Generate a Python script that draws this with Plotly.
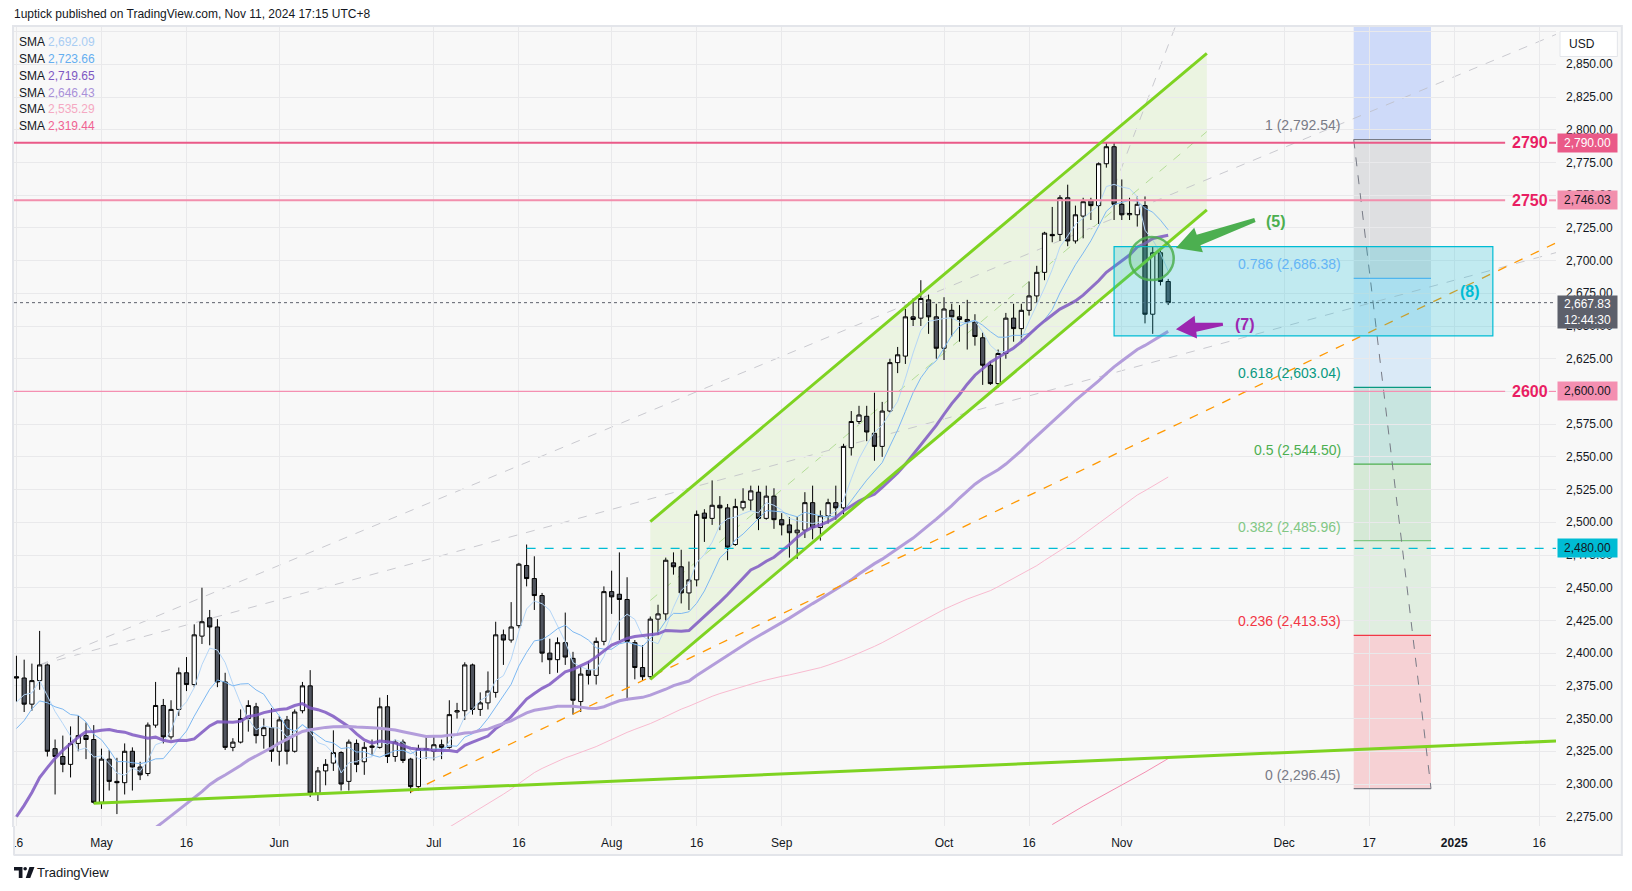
import numpy as np
import pandas as pd
import plotly.graph_objects as go

# ---------------- data ----------------
first_day, last_day = "2024-04-16", "2024-11-11"

opens = [2382, 2381, 2361, 2379, 2391, 2327, 2321, 2315, 2331, 2337, 2334,
         2286, 2319, 2302, 2301, 2325, 2313, 2308, 2345, 2360, 2336, 2357, 2385, 2376, 2413, 2427, 2420, 2378, 2328, 2332, 2350, 2359, 2337, 2343,
         2325, 2349, 2325, 2356, 2375, 2293, 2310, 2316, 2324, 2302, 2331, 2317, 2328, 2328, 2359, 2321, 2332, 2319, 2298, 2327,
         2325, 2330, 2328, 2355, 2356, 2391, 2357, 2362, 2370, 2414, 2410, 2421, 2467, 2457, 2444, 2400, 2395, 2408, 2396, 2363, 2387, 2383, 2409,
         2447, 2445, 2441, 2408, 2389, 2382, 2426, 2430, 2469, 2466, 2446, 2456, 2507, 2503, 2513, 2511, 2483, 2511, 2517, 2523, 2503, 2520,
         2502, 2498, 2492, 2494, 2515, 2496, 2505, 2515, 2511, 2557, 2577, 2581, 2568, 2558, 2585, 2622, 2627, 2657, 2656, 2670, 2657,
         2633, 2662, 2657, 2655, 2653, 2641, 2620, 2606, 2629, 2656, 2648, 2662, 2673, 2691, 2720, 2720, 2748, 2715, 2734, 2746, 2742, 2774, 2787,
         2743, 2735, 2735, 2742, 2659, 2706, 2684]
highs = [2398, 2395, 2392, 2417, 2392, 2334, 2337, 2344, 2352, 2347, 2345,
         2327, 2326, 2320, 2331, 2328, 2317, 2347, 2378, 2365, 2364, 2389, 2397, 2422, 2450, 2433, 2426, 2385, 2335, 2357, 2364, 2362, 2350, 2358,
         2352, 2352, 2357, 2378, 2387, 2313, 2319, 2341, 2325, 2334, 2334, 2332, 2334, 2366, 2368, 2334, 2334, 2320, 2330, 2337,
         2337, 2334, 2364, 2362, 2393, 2392, 2370, 2386, 2424, 2418, 2439, 2469, 2483, 2474, 2446, 2411, 2412, 2431, 2401, 2390, 2394, 2412, 2451,
         2463, 2477, 2458, 2410, 2406, 2428, 2437, 2473, 2477, 2479, 2470, 2509, 2510, 2532, 2520, 2514, 2518, 2526, 2528, 2528, 2528, 2526,
         2507, 2504, 2504, 2523, 2528, 2509, 2518, 2528, 2560, 2585, 2589, 2589, 2599, 2592, 2625, 2634, 2663, 2671, 2685, 2674, 2667,
         2672, 2667, 2666, 2670, 2659, 2645, 2623, 2632, 2660, 2667, 2667, 2684, 2696, 2722, 2741, 2750, 2758, 2742, 2748, 2748, 2775, 2790, 2790,
         2762, 2748, 2749, 2749, 2711, 2709, 2686]
lows = [2363, 2355, 2356, 2372, 2321, 2292, 2309, 2305, 2325, 2319, 2285,
        2281, 2295, 2277, 2292, 2295, 2303, 2306, 2343, 2331, 2334, 2352, 2371, 2374, 2407, 2406, 2374, 2326, 2325, 2331, 2340, 2331, 2327, 2317,
        2314, 2315, 2324, 2354, 2290, 2287, 2299, 2310, 2295, 2295, 2309, 2307, 2322, 2327, 2316, 2317, 2316, 2293, 2295, 2319,
        2318, 2319, 2327, 2350, 2349, 2353, 2352, 2357, 2366, 2391, 2408, 2419, 2451, 2433, 2393, 2384, 2385, 2391, 2353, 2355, 2376, 2376, 2406,
        2430, 2410, 2364, 2380, 2379, 2380, 2414, 2425, 2460, 2438, 2433, 2451, 2485, 2498, 2494, 2471, 2482, 2509, 2509, 2494, 2502, 2495,
        2490, 2473, 2472, 2488, 2487, 2486, 2499, 2502, 2506, 2551, 2575, 2562, 2547, 2550, 2584, 2614, 2621, 2650, 2650, 2644, 2625,
        2624, 2642, 2638, 2632, 2635, 2605, 2605, 2603, 2625, 2638, 2638, 2658, 2668, 2685, 2714, 2715, 2711, 2713, 2717, 2731, 2728, 2771, 2731,
        2731, 2731, 2726, 2652, 2644, 2681, 2666]
closes = [2381, 2361, 2379, 2391, 2325, 2321, 2315, 2331, 2337, 2334, 2286,
          2319, 2302, 2301, 2325, 2313, 2307, 2345, 2360, 2336, 2357, 2385, 2376, 2414, 2424, 2420, 2378, 2328, 2332, 2350, 2360, 2337, 2343, 2325,
          2349, 2325, 2355, 2375, 2293, 2310, 2315, 2324, 2300, 2332, 2315, 2328, 2329, 2359, 2321, 2332, 2318, 2298, 2327, 2326,
          2330, 2328, 2353, 2356, 2391, 2357, 2362, 2371, 2414, 2410, 2420, 2468, 2457, 2444, 2400, 2395, 2408, 2397, 2364, 2384, 2383, 2409, 2447,
          2443, 2441, 2409, 2389, 2382, 2426, 2430, 2471, 2466, 2446, 2456, 2506, 2503, 2513, 2511, 2481, 2512, 2516, 2524, 2503, 2520, 2502,
          2498, 2492, 2494, 2515, 2496, 2505, 2515, 2511, 2558, 2577, 2582, 2569, 2558, 2585, 2622, 2628, 2657, 2655, 2671, 2657, 2633,
          2663, 2657, 2655, 2653, 2642, 2620, 2606, 2629, 2656, 2648, 2662, 2673, 2691, 2721, 2719, 2748, 2715, 2735, 2745, 2742, 2774, 2787, 2743,
          2735, 2736, 2743, 2659, 2706, 2684, 2667.83]
# closes before the first visible bar (Feb 5 - Apr 15), feeding the moving averages
prior_closes = [2025, 2035, 2035, 2034, 2024, 2020, 1992, 1992, 2004, 2013, 2018, 2024, 2025, 2024, 2035, 2031, 2030, 2034, 2044,
                2083, 2115, 2128, 2148, 2160, 2179, 2182, 2158, 2175, 2162, 2156, 2160, 2157, 2187, 2181, 2165, 2172, 2179, 2194, 2233, 2233,
                2251, 2280, 2300, 2291, 2329, 2339, 2352, 2333, 2372, 2344, 2383]

sma_periods = [5, 10, 20, 50, 100]
sma_colors = ['#b5d6f7', '#7db8f2', 'rgba(126,87,194,0.85)', '#b39ddb', '#f8bbd0']
sma_widths = [1, 1, 3, 3, 1]
sma200_days = ["2024-10-21", "2024-10-25", "2024-10-31", "2024-11-06", "2024-11-11"]
sma200_vals = [2269, 2283, 2296, 2309, 2319.44]
legend_values = ["2,692.09", "2,723.66", "2,719.65", "2,646.43", "2,535.29", "2,319.44"]
legend_colors = ['#a9cdf3', '#64aef0', '#7e57c2', '#a991d8', '#f5a9c2', '#f06292']

xtick_days = ["2024-04-16", "2024-05-01", "2024-05-16", "2024-06-03", "2024-07-01", "2024-07-16", "2024-08-01",
              "2024-08-16", "2024-09-02", "2024-10-01", "2024-10-16", "2024-11-01", "2024-12-02", "2024-12-17",
              "2025-01-01", "2025-01-16"]
xtick_text = ["16", "May", "16", "Jun", "Jul", "16", "Aug", "16", "Sep", "Oct", "16", "Nov", "Dec", "17", "<b>2025</b>", "16"]
ytick_vals = list(range(2275, 2876, 25))
ytick_hidden = [2600, 2875]   # fully covered by the price boxes / USD box

# horizontal levels
levels = [2790.00, 2746.03, 2600.00]
level_tags = ["2790", "2750", "2600"]
level_colors = ['#ea5a88', '#f28fad', '#f48fb1']
level_widths = [2, 2, 1.2]
level_box_fg = ['#ffffff', '#131722', '#131722']
support_day, support_price = "2024-07-17", 2480.00
last_price = 2667.83
countdown = "12:44:30"

# drawings (anchor date, price)
channel_days = ["2024-08-08", "2024-11-18"]
channel_upper = [2500.5, 2858.4]
channel_lower = [2380.0, 2738.7]
trend_days = ["2024-04-30", "2025-01-16"]
trend_prices = [2285.2, 2332.3]
fan_start = ("2024-04-19", 2391.0)
fan_ends = [("2025-01-16", 2867.5), ("2025-01-16", 2702.6)]
steep_days = ["2024-10-31", "2024-11-12"]
steep_prices = [2756.0, 2880.0]
orange_days = ["2024-06-26", "2025-01-16"]
orange_prices = [2294.0, 2707.4]
box_days = ["2024-10-31", "2025-01-08"]
box_prices = [2642.4, 2710.6]
circle_day, circle_price = "2024-11-07", 2701.5
fib_days = ["2024-12-13", "2024-12-27"]
fib_ratios = [1, 0.786, 0.618, 0.5, 0.382, 0.236, 0]
fib_prices = [2792.54, 2686.38, 2603.04, 2544.50, 2485.96, 2413.53, 2296.45]
fib_colors = ['#787b86', '#64b5f6', '#089981', '#4caf50', '#81c784', '#f23645', '#787b86']
fib_fills = ['rgba(120,123,134,0.2)', 'rgba(100,181,246,0.2)', 'rgba(8,153,129,0.2)',
             'rgba(76,175,80,0.2)', 'rgba(129,199,132,0.2)', 'rgba(242,54,69,0.2)']
marks = [("(5)", "2024-11-29", 2729.7, '#4caf50'), ("(7)", "2024-11-25", 2650.8, '#9c27b0'),
         ("(8)", "2025-01-03", 2676.2, '#00bcd4')]
arrows = [("2024-11-12", 2709.6, 79, 28, '#4caf50'), ("2024-11-12", 2647.5, 47, 5, '#9c27b0')]

# ---------------- geometry ----------------
W, H = 1632, 891
PL, PR, PT, PB = 10, 1556, 27, 826
X_RANGE = [-0.316, 199.17]
Y_RANGE = [2267.9, 2878.5]

all_days = pd.bdate_range(first_day, "2025-01-31")
def ix(d):
    return int(all_days.get_loc(pd.Timestamp(d)))

def PX(px):
    return (px - PL) / (PR - PL)

def PY(py):
    return (PB - py) / (PB - PT)

n = len(closes)
xi = np.arange(n)

fig = go.Figure()

# moving averages
allc = pd.Series(prior_closes + closes, dtype=float)
for p, c, w in zip(sma_periods, sma_colors, sma_widths):
    s = allc.rolling(p).mean().to_numpy()[len(prior_closes):]
    fig.add_trace(go.Scatter(x=xi, y=s, mode='lines', line=dict(color=c, width=w), hoverinfo='skip'))
fig.add_trace(go.Scatter(x=[ix(d) for d in sma200_days], y=sma200_vals, mode='lines',
                         line=dict(color='#f48fb1', width=1), hoverinfo='skip'))

fig.add_trace(go.Candlestick(
    x=xi, open=opens, high=highs, low=lows, close=closes,
    increasing=dict(fillcolor='#ffffff', line=dict(color='#000000', width=1)),
    decreasing=dict(fillcolor='#50545e', line=dict(color='#000000', width=1)),
    whiskerwidth=0, hoverinfo='skip'))

shapes = []
annotations = []

def ann(text, x, y, xref='paper', yref='paper', **kw):
    d = dict(text=text, x=x, y=y, xref=xref, yref=yref, showarrow=False)
    d.update(kw)
    annotations.append(d)

def seg(x0, y0, x1, y1, color, width=1, dash='solid', xref='x', yref='y', layer='above'):
    shapes.append(dict(type='line', x0=x0, y0=y0, x1=x1, y1=y1, xref=xref, yref=yref,
                       line=dict(color=color, width=width, dash=dash), layer=layer))

def extend(d0, p0, d1, p1):
    i0, i1 = ix(d0), ix(d1)
    slope = (p1 - p0) / (i1 - i0)
    return i0, p0, X_RANGE[1], p0 + slope * (X_RANGE[1] - i0)

# chart frame
shapes.append(dict(type='rect', xref='paper', yref='paper', x0=PX(9), x1=PX(1622), y0=PY(855), y1=PY(26),
                   fillcolor='#f8f8f8', line=dict(color='#e3e5ea', width=2), layer='below'))

# fibonacci retracement
f0, f1 = ix(fib_days[0]), ix(fib_days[1])
shapes.append(dict(type='rect', xref='x', yref='y', x0=f0, x1=f1, y0=fib_prices[0], y1=Y_RANGE[1] + 50,
                   fillcolor='rgba(41,98,255,0.2)', line=dict(width=0), layer='below'))
for k in range(len(fib_fills)):
    shapes.append(dict(type='rect', xref='x', yref='y', x0=f0, x1=f1, y0=fib_prices[k + 1], y1=fib_prices[k],
                       fillcolor=fib_fills[k], line=dict(width=0), layer='below'))
for r, p, c in zip(fib_ratios, fib_prices, fib_colors):
    seg(f0, p, f1, p, c, 1.2)
    ann(f"{r:g} ({p:,.2f})", f0, p, xref='x', yref='y', xanchor='right', yanchor='middle',
        xshift=-11, yshift=14, font=dict(color=c, size=14))
seg(f0, fib_prices[0], f1, fib_prices[-1], '#787b86', 1, 'dash')

# channel
c0, c1 = ix(channel_days[0]), ix(channel_days[1])
shapes.append(dict(type='path', xref='x', yref='y',
                   path=f"M {c0},{channel_upper[0]} L {c1},{channel_upper[1]} L {c1},{channel_lower[1]} L {c0},{channel_lower[0]} Z",
                   fillcolor='rgba(126,211,33,0.1)', line=dict(width=0), layer='below'))
seg(c0, (channel_upper[0] + channel_lower[0]) / 2, c1, (channel_upper[1] + channel_lower[1]) / 2,
    'rgba(110,190,60,0.45)', 1, 'dash', layer='below')

# fan lines from the April top
for d1, p1 in fan_ends:
    a, b, c, d = extend(fan_start[0], fan_start[1], d1, p1)
    seg(a, b, c, d, 'rgba(190,190,198,0.8)', 1, 'dash', layer='below')
seg(ix(steep_days[0]), steep_prices[0], ix(steep_days[1]), steep_prices[1], 'rgba(190,190,198,0.8)', 1, 'dash', layer='below')

# orange dashed trend
a, b, c, d = extend(orange_days[0], orange_prices[0], orange_days[1], orange_prices[1])
seg(a, b, c, d, '#ff9800', 1.3, 'dash')

# horizontal levels
for lv, tag, col, lw in zip(levels, level_tags, level_colors, level_widths):
    seg(0, lv, PX(1505), lv, col, lw, xref='paper')
    seg(PX(1549), lv, 1, lv, col, lw, xref='paper')
    ann(f"<b>{tag}</b>", PX(1529.5), lv, yref='y', xanchor='center', yanchor='middle',
        font=dict(color='#e91e63', size=16))
seg(ix(support_day), support_price, X_RANGE[1], support_price, '#00bcd4', 1.3, 'dash')
seg(0, last_price, 1, last_price, '#5d606b', 1, 'dot', xref='paper')

# support trend line (bottom) and channel borders
a, b, c, d = extend(trend_days[0], trend_prices[0], trend_days[1], trend_prices[1])
seg(a, b, c, d, '#7ed321', 3)
seg(c0, channel_upper[0], c1, channel_upper[1], '#7ed321', 3)
seg(c0, channel_lower[0], c1, channel_lower[1], '#7ed321', 3)

# zone box
shapes.append(dict(type='rect', xref='x', yref='y', x0=ix(box_days[0]), x1=ix(box_days[1]),
                   y0=box_prices[0], y1=box_prices[1], fillcolor='rgba(0,188,212,0.22)',
                   line=dict(color='#00bcd4', width=1.2), layer='above'))
# circle
shapes.append(dict(type='circle', xref='x', yref='y', xsizemode='pixel', ysizemode='pixel',
                   xanchor=ix(circle_day), yanchor=circle_price, x0=-23, x1=21, y0=-21.5, y1=21.5,
                   fillcolor='rgba(76,175,80,0.15)', line=dict(color='rgba(76,175,80,0.85)', width=2.5), layer='above'))

# arrows
def arrow_path(dx, dy, head_len, head_half, shaft_half, tail_half):
    L = np.hypot(dx, dy)
    ux, uy = dx / L, dy / L
    nx, ny = -uy, ux
    bx, by = ux * head_len, uy * head_len
    pts = [(0, 0), (bx + nx * head_half, by + ny * head_half), (bx + nx * shaft_half, by + ny * shaft_half),
           (dx + nx * tail_half, dy + ny * tail_half), (dx - nx * tail_half, dy - ny * tail_half),
           (bx - nx * shaft_half, by - ny * shaft_half), (bx - nx * head_half, by - ny * head_half)]
    return "M " + " L ".join(f"{p:.1f},{q:.1f}" for p, q in pts) + " Z"

for d, p, dx, dy, col in arrows:
    big = dx > 60
    path = arrow_path(dx, dy, 24 if big else 20, 13 if big else 11.5, 5.5 if big else 4.5, 2 if big else 1.5)
    shapes.append(dict(type='path', xref='x', yref='y', xsizemode='pixel', ysizemode='pixel',
                       xanchor=ix(d), yanchor=p, path=path,
                       fillcolor=col, line=dict(width=0), layer='above'))

for txt, d, p, col in marks:
    ann(f"<b>{txt}</b>", ix(d), p, xref='x', yref='y', font=dict(color=col, size=16))

# price-axis labels
def price_box(price, text, bg, fg, nlines=1, yshift=0, yanchor='middle'):
    ann(text, PX(1557), price, yref='y', xanchor='left', yanchor=yanchor, yshift=yshift,
        bgcolor=bg, font=dict(color=fg, size=12), width=56, height=14 * nlines + 1, borderpad=1.5, align='center')

for lv, col, fg in zip(levels, level_colors, level_box_fg):
    price_box(lv, f"{lv:,.2f}", col, fg)
price_box(support_price, f"{support_price:,.2f}", '#00bcd4', '#131722')
price_box(last_price, f"{last_price:,.2f}<br>{countdown}", '#5d606b', '#ffffff', nlines=2, yshift=8, yanchor='top')

# USD box
shapes.append(dict(type='rect', xref='paper', yref='paper', x0=PX(1560), x1=PX(1617.5), y0=PY(56.5), y1=PY(31.5),
                   fillcolor='#ffffff', line=dict(color='#e3e5ea', width=1), layer='above'))
ann("USD", PX(1567), PY(44), xanchor='left', yanchor='middle', font=dict(size=12, color='#131722'))

# cover for clipped first time label
shapes.append(dict(type='rect', xref='paper', yref='paper', x0=PX(0), x1=PX(9.5), y0=PY(858), y1=PY(827),
                   fillcolor='#ffffff', line=dict(width=0), layer='above'))
shapes.append(dict(type='line', xref='paper', yref='paper', x0=PX(10), x1=PX(10), y0=PY(855), y1=PY(826),
                   line=dict(color='#e3e5ea', width=2), layer='above'))

# legend of moving averages
rows_y = [41.7, 59, 76, 92.7, 109.3, 126.5]
for val, col, ry in zip(legend_values, legend_colors, rows_y):
    ann("SMA", PX(13.5), PY(ry), xanchor='left', yanchor='middle', font=dict(size=12, color='#131722'))
    ann(val, PX(42.5), PY(ry), xanchor='left', yanchor='middle', font=dict(size=12, color=col))

# header and footer
ann("1uptick published on TradingView.com, Nov 11, 2024 17:15 UTC+8", PX(8), PY(14.5),
    xanchor='left', yanchor='middle', font=dict(size=12, color='#131722'))
shapes.append(dict(type='path', xref='paper', yref='paper',
                   path=f"M {PX(10)},{PY(867)} L {PX(18.5)},{PY(867)} L {PX(18.5)},{PY(878)} L {PX(14.8)},{PY(878)} L {PX(14.8)},{PY(870.6)} L {PX(10)},{PY(870.6)} Z",
                   fillcolor='#131722', line=dict(width=0), layer='above'))
shapes.append(dict(type='circle', xref='paper', yref='paper', x0=PX(19.4), x1=PX(23), y0=PY(870.6), y1=PY(867),
                   fillcolor='#131722', line=dict(width=0), layer='above'))
shapes.append(dict(type='path', xref='paper', yref='paper',
                   path=f"M {PX(25.5)},{PY(867)} L {PX(30.5)},{PY(867)} L {PX(26.3)},{PY(878)} L {PX(21.8)},{PY(878)} Z",
                   fillcolor='#131722', line=dict(width=0), layer='above'))
ann("TradingView", PX(31), PY(872.5), xanchor='left', yanchor='middle', font=dict(size=13, color='#131722'))

fig.update_layout(
    width=W, height=H,
    margin=dict(l=PL, r=W - PR, t=PT, b=H - PB, pad=0),
    paper_bgcolor='#ffffff', plot_bgcolor='#f8f8f8',
    showlegend=False, hovermode=False, boxgap=0.22,
    font=dict(family='Liberation Sans, Arial, sans-serif', size=12, color='#131722'),
    xaxis=dict(range=X_RANGE, tickvals=[ix(d) for d in xtick_days], ticktext=xtick_text,
               showgrid=True, gridcolor='#e9e9eb', gridwidth=1, zeroline=False, showline=False,
               ticks='', ticklabelstandoff=8, rangeslider=dict(visible=False),
               tickfont=dict(size=12, color='#131722')),
    yaxis=dict(range=Y_RANGE, side='right', tickvals=ytick_vals,
               ticktext=["" if v in ytick_hidden else f"{v:,.2f}" for v in ytick_vals],
               showgrid=True, gridcolor='#e9e9eb', gridwidth=1, zeroline=False, showline=False,
               ticks='', ticklabelstandoff=9, tickfont=dict(size=12, color='#131722')),
    shapes=shapes, annotations=annotations,
)

fig.write_html("out.html")
